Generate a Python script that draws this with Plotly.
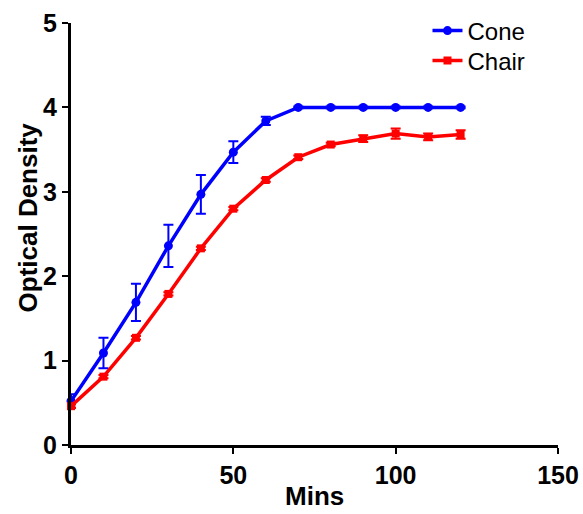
import plotly.graph_objects as go

# Sampling times (minutes)
mins = [0, 10, 20, 30, 40, 50, 60, 70, 80, 90, 100, 110, 120]

# Optical density, mean and error per time point
cone_od = [0.52, 1.09, 1.69, 2.36, 2.97, 3.47, 3.84, 4.00, 4.00, 4.00, 4.00, 4.00, 4.00]
cone_err = [0.08, 0.18, 0.22, 0.25, 0.23, 0.13, 0.05, 0.01, 0.01, 0.01, 0.01, 0.01, 0.01]

chair_od = [0.46, 0.81, 1.27, 1.79, 2.33, 2.80, 3.14, 3.41, 3.56, 3.63, 3.69, 3.65, 3.68]
chair_err = [0.02, 0.02, 0.02, 0.02, 0.02, 0.02, 0.02, 0.02, 0.02, 0.04, 0.06, 0.04, 0.05]

x_ticks = [0, 50, 100, 150]
y_ticks = [0, 1, 2, 3, 4, 5]

FONT = "Liberation Sans, Arial, sans-serif"

fig = go.Figure()

fig.add_trace(go.Scatter(
    x=mins, y=cone_od, name="Cone", mode="lines+markers",
    line=dict(color="#0000ff", width=3.5),
    marker=dict(symbol="circle", size=9, color="#0000ff"),
    error_y=dict(type="data", array=cone_err, visible=True,
                 color="#0000ff", thickness=2, width=5),
    cliponaxis=False, showlegend=True, legend="legend3",
))

fig.add_trace(go.Scatter(
    x=mins, y=chair_od, name="Chair", mode="lines+markers",
    line=dict(color="#ff0000", width=3.5),
    marker=dict(symbol="square", size=8, color="#ff0000"),
    error_y=dict(type="data", array=chair_err, visible=True,
                 color="#ff0000", thickness=2, width=5),
    cliponaxis=False, showlegend=True, legend="legend2",
))

axis_common = dict(
    showline=True, linecolor="black", linewidth=3,
    ticks="outside", ticklen=6, tickwidth=2, tickcolor="black",
    showgrid=False, zeroline=False, automargin=False,
    tickfont=dict(family=FONT, size=25, color="black", weight="bold"),
)

fig.update_xaxes(range=[0, 150], tickvals=x_ticks, **axis_common)
fig.update_yaxes(range=[0, 5], tickvals=y_ticks, **axis_common)

title_font = dict(family=FONT, size=26, color="black", weight="bold")

# axis titles
fig.add_annotation(
    text="Mins", showarrow=False,
    xref="paper", yref="paper", x=0.5, y=-0.162,
    xanchor="center", yanchor="bottom", font=title_font,
)
fig.add_annotation(
    text="Optical Density", textangle=-90, showarrow=False,
    xref="paper", yref="paper", x=-0.0893, y=0.538,
    xanchor="center", yanchor="middle", font=title_font,
)

legend_common = dict(
    xref="paper", yref="paper", xanchor="left", yanchor="middle",
    font=dict(family=FONT, size=24, color="black"),
    bgcolor="rgba(0,0,0,0)", borderwidth=0,
)

fig.update_layout(
    width=583, height=514,
    margin=dict(l=71, r=25, t=23, b=69, autoexpand=False),
    plot_bgcolor="white", paper_bgcolor="white",
    legend3=dict(x=0.732, y=(445 - 31) / 422, **legend_common),
    legend2=dict(x=0.732, y=(445 - 61) / 422, **legend_common),
)

fig.write_html("out.html")
